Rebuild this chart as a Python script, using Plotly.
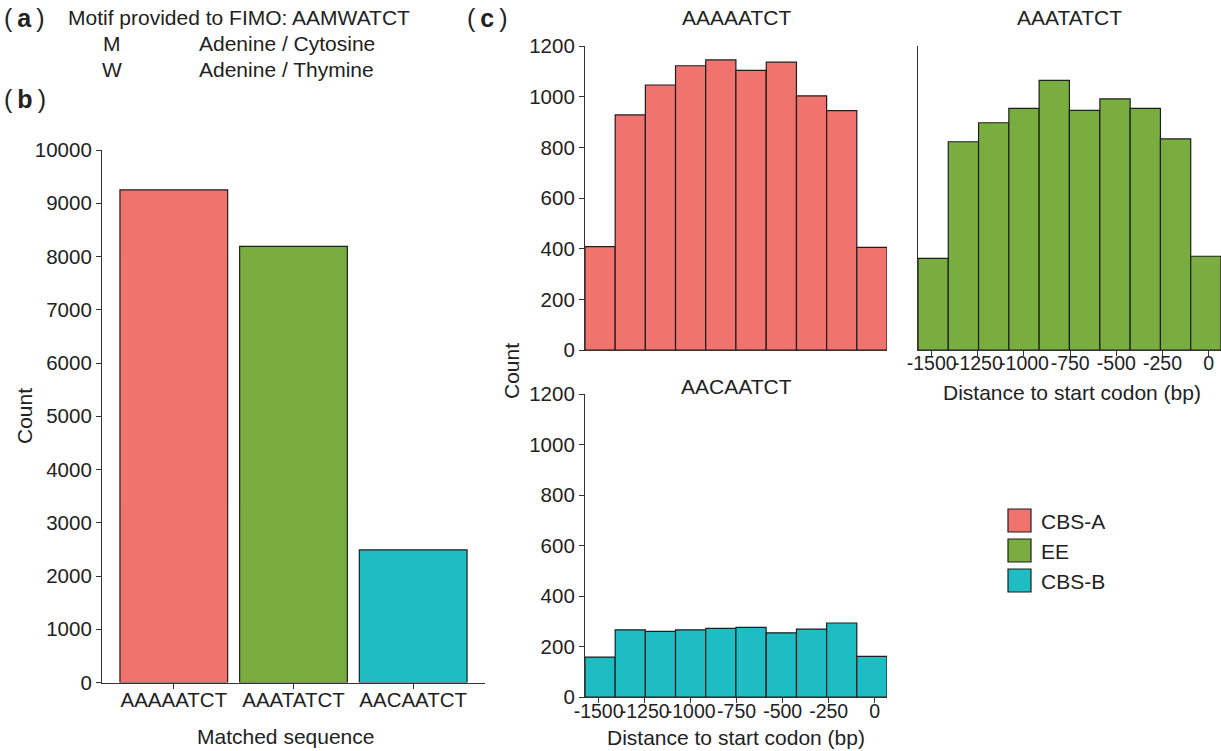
import plotly.graph_objects as go

# ---------------- data ----------------
sequences = ["AAAAATCT", "AAATATCT", "AACAATCT"]
seq_counts = [9250, 8190, 2490]

groups = ["CBS-A", "EE", "CBS-B"]
group_colors = ["#F0736D", "#79AD40", "#1DBDC3"]

bin_centers = [-1492, -1328, -1164, -1000, -836, -672, -507, -343, -179, -15]
bin_width = 164
counts_AAAAATCT = [408, 928, 1046, 1122, 1145, 1104, 1136, 1003, 945, 405]
counts_AAATATCT = [362, 822, 897, 954, 1064, 946, 991, 954, 833, 370]
counts_AACAATCT = [158, 266, 260, 266, 272, 276, 254, 269, 293, 161]

y_ticks_b = [0, 1000, 2000, 3000, 4000, 5000, 6000, 7000, 8000, 9000, 10000]
y_ticks_c = [0, 200, 400, 600, 800, 1000, 1200]
x_ticks_c = [-1500, -1250, -1000, -750, -500, -250, 0]

# ---------------- style ----------------
W, H = 1221, 751
FONT = "Liberation Sans, Arial, sans-serif"
TXT = "#222222"
LINE = "#333333"
OUTLINE = "#1e1e1e"


def px(x):
    return x / W


def py(y):
    return 1 - y / H


fig = go.Figure()

# panel b
fig.add_trace(go.Bar(
    x=sequences, y=seq_counts, width=0.9,
    marker=dict(color=group_colors, line=dict(color=OUTLINE, width=1.2)),
    xaxis="x", yaxis="y", showlegend=False, hoverinfo="x+y"))

# panel c histograms
hist_sets = [counts_AAAAATCT, counts_AAATATCT, counts_AACAATCT]
for i, (vals, col) in enumerate(zip(hist_sets, group_colors)):
    n = i + 2
    fig.add_trace(go.Bar(
        x=bin_centers, y=vals, width=bin_width,
        marker=dict(color=col, line=dict(color=OUTLINE, width=1.2)),
        xaxis=f"x{n}", yaxis=f"y{n}", showlegend=False, name=groups[i]))

tickfont = dict(family=FONT, size=20.5, color=TXT)
common = dict(showgrid=False, zeroline=False, showline=True, linecolor=LINE,
              linewidth=1.2, tickcolor=LINE, ticklen=5, tickwidth=1.1,
              tickangle=0, automargin=False)
xnum_font = dict(family=FONT, size=19.5, color=TXT)

xr = [-1574, 67]
yr_c = [0, 1200]
x_text_c = [str(v) for v in x_ticks_c]
y_text_b = [str(v) for v in y_ticks_b]
y_text_c = [str(v) for v in y_ticks_c]

fig.update_layout(
    width=W, height=H,
    margin=dict(l=0, r=0, t=0, b=0, pad=0, autoexpand=False),
    paper_bgcolor="white", plot_bgcolor="white",
    font=dict(family=FONT, color=TXT),
    # panel b
    xaxis=dict(domain=[px(102), px(485)], anchor="y", range=[-0.6, 2.6],
               ticks="outside", tickfont=tickfont, ticklabelstandoff=-6, **common),
    yaxis=dict(domain=[py(682.5), py(150)], anchor="x", range=[0, 10000],
               tickvals=y_ticks_b, ticktext=y_text_b, ticks="outside",
               tickfont=tickfont, **common),
    # top-left
    xaxis2=dict(domain=[px(585), px(887)], anchor="y2", range=xr,
                ticks="", showticklabels=False, tickfont=xnum_font, **common),
    yaxis2=dict(domain=[py(350), py(46)], anchor="x2", range=yr_c,
                tickvals=y_ticks_c, ticktext=y_text_c, ticks="outside",
                tickfont=tickfont, **common),
    # top-right
    xaxis3=dict(domain=[px(918), px(1221)], anchor="y3", range=xr,
                tickvals=x_ticks_c, ticktext=x_text_c, ticks="outside",
                tickfont=xnum_font, ticklabelstandoff=-10, **common),
    yaxis3=dict(domain=[py(350), py(46)], anchor="x3", range=yr_c,
                ticks="", showticklabels=False, tickfont=tickfont, **common),
    # bottom-left
    xaxis4=dict(domain=[px(585), px(887)], anchor="y4", range=xr,
                tickvals=x_ticks_c, ticktext=x_text_c, ticks="outside",
                tickfont=xnum_font, ticklabelstandoff=-9, **common),
    yaxis4=dict(domain=[py(697), py(394)], anchor="x4", range=yr_c,
                tickvals=y_ticks_c, ticktext=y_text_c, ticks="outside",
                tickfont=tickfont, **common),
)

ann = []


def text(x, y, s, size=21, xanchor="center", yanchor="middle", angle=0):
    ann.append(dict(x=px(x), y=py(y), xref="paper", yref="paper", text=s,
                    showarrow=False, xanchor=xanchor, yanchor=yanchor,
                    textangle=angle, borderpad=0,
                    font=dict(family=FONT, size=size, color=TXT)))


# panel labels and motif text
text(3, 18, "(\u2009<b>a</b>\u2009)", size=25, xanchor="left")
text(3, 99, "(\u2009<b>b</b>\u2009)", size=25, xanchor="left")
text(466, 18, "(\u2009<b>c</b>\u2009)", size=25, xanchor="left")
text(67, 17, "Motif provided to FIMO: AAMWATCT", xanchor="left")
text(112, 44, "M")
text(198, 44, "Adenine / Cytosine", xanchor="left")
text(112, 69, "W")
text(198, 69, "Adenine / Thymine", xanchor="left")

# axis titles
text(25, 416, "Count", angle=-90)
text(285, 736, "Matched sequence")
text(511, 371, "Count", angle=-90)
text(1072, 392, "Distance to start codon (bp)")
text(736, 737, "Distance to start codon (bp)")

# facet titles
text(736, 18, sequences[0])
text(1069, 18, sequences[1])
text(736, 386, sequences[2])

# legend
shapes = []
for i, (g, c) in enumerate(zip(groups, group_colors)):
    y0 = 509 + i * 30
    shapes.append(dict(type="rect", xref="paper", yref="paper",
                       x0=px(1008), x1=px(1031), y0=py(y0 + 23), y1=py(y0),
                       fillcolor=c, line=dict(color=OUTLINE, width=1.2)))
    text(1040, y0 + 12, g, xanchor="left")

fig.update_layout(annotations=ann, shapes=shapes)

fig.write_html("out.html", config={"responsive": False, "displayModeBar": False},
               post_script="document.body.style.margin='0px';")
